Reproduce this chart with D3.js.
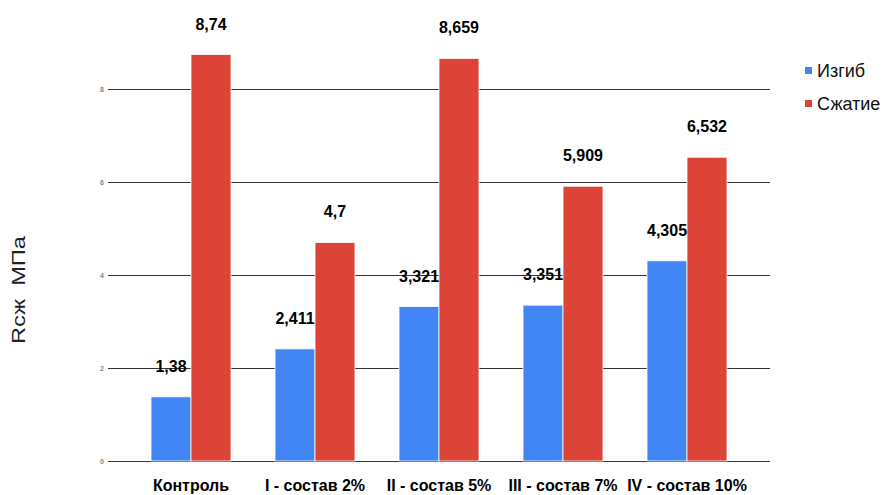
<!DOCTYPE html>
<html>
<head>
<meta charset="utf-8">
<script src="https://d3js.org/d3.v7.min.js"></script>
<style>
  body { margin: 0; background: #fff; }
  .tick text { fill: #888; font-weight: bold; font-size: 7px; font-family: "Liberation Sans", Arial, sans-serif; }
</style>
</head>
<body>
<script>
var categories = ["Контроль", "I - состав 2%", "II - состав 5%", "III - состав 7%", "IV - состав 10%"];
var seriesNames = ["Изгиб", "Сжатие"];
var bending = [1.38, 2.411, 3.321, 3.351, 4.305];
var compression = [8.74, 4.7, 8.659, 5.909, 6.532];
var bendingLabels = ["1,38", "2,411", "3,321", "3,351", "4,305"];
var compressionLabels = ["8,74", "4,7", "8,659", "5,909", "6,532"];
var yTicks = [0, 2, 4, 6, 8];
var colors = ["#4285f4", "#db4437"];

var width = 882, height = 495;
var svg = d3.select("body").append("svg")
  .attr("width", width).attr("height", height)
  .style("font-family", "'Liberation Sans', Arial, sans-serif");

var gridLeft = 108, gridRight = 770;

var yScale = d3.scaleLinear().domain([0, 8]).range([461, 89]);
var xScale = d3.scaleBand().domain(categories).range([129, 749]).paddingInner(0.355).paddingOuter(0.1775);
var xSub = d3.scaleBand().domain(seriesNames).range([0, xScale.bandwidth()]);

// grid lines
svg.append("g")
  .attr("transform", `translate(${gridLeft},0)`)
  .call(d3.axisLeft(yScale).tickValues(yTicks).tickSize(-(gridRight - gridLeft)).tickPadding(4).tickFormat(d3.format("d")))
  .call(g => g.select(".domain").remove())
  .call(g => g.selectAll(".tick line").attr("stroke", "#333").attr("stroke-width", 1.2));

var rows = categories.map(function(c, i) {
  return {cat: c, values: [
    {s: seriesNames[0], v: bending[i], label: bendingLabels[i]},
    {s: seriesNames[1], v: compression[i], label: compressionLabels[i]}
  ]};
});

var groups = svg.selectAll(".grp").data(rows).enter().append("g")
  .attr("transform", function(d) { return `translate(${xScale(d.cat)},0)`; });

groups.selectAll("rect").data(function(d) { return d.values; }).enter().append("rect")
  .attr("x", function(d) { return xSub(d.s); })
  .attr("y", function(d) { return yScale(d.v); })
  .attr("width", xSub.bandwidth())
  .attr("height", function(d) { return yScale(0) - yScale(d.v); })
  .attr("fill", function(d, i) { return colors[i]; })
  .attr("stroke", "#fff").attr("stroke-width", 0.8);

groups.selectAll(".val").data(function(d) { return d.values; }).enter().append("text")
  .attr("x", function(d) { return xSub(d.s) + xSub.bandwidth() / 2; })
  .attr("y", function(d) { return yScale(d.v) - 25; })
  .attr("text-anchor", "middle")
  .attr("font-weight", "bold").attr("font-size", 16)
  .attr("fill", "#000")
  .text(function(d) { return d.label; });

// x labels
svg.selectAll(".xl").data(categories).enter().append("text")
  .attr("x", function(d) { return xScale(d) + xScale.bandwidth() / 2; })
  .attr("y", 491)
  .attr("text-anchor", "middle")
  .attr("font-weight", "bold").attr("font-size", 16)
  .text(function(d) { return d; });

// y title
svg.append("text")
  .attr("transform", "translate(25,290) rotate(-90)")
  .attr("text-anchor", "middle")
  .attr("font-size", 18)
  .attr("fill", "#222")
  .attr("textLength", 108)
  .attr("lengthAdjust", "spacingAndGlyphs")
  .style("white-space", "pre")
  .text("Rсж  МПа");

// legend
var legend = svg.selectAll(".lg").data(seriesNames).enter().append("g")
  .attr("transform", function(d, i) { return `translate(805,${71 + i * 33})`; });
legend.append("rect").attr("x", 0).attr("y", -4).attr("width", 7).attr("height", 7)
  .attr("fill", function(d, i) { return colors[i]; });
legend.append("text").attr("x", 12).attr("y", 6).attr("font-size", 18).attr("fill", "#111")
  .text(function(d) { return d; });
</script>
</body>
</html>
